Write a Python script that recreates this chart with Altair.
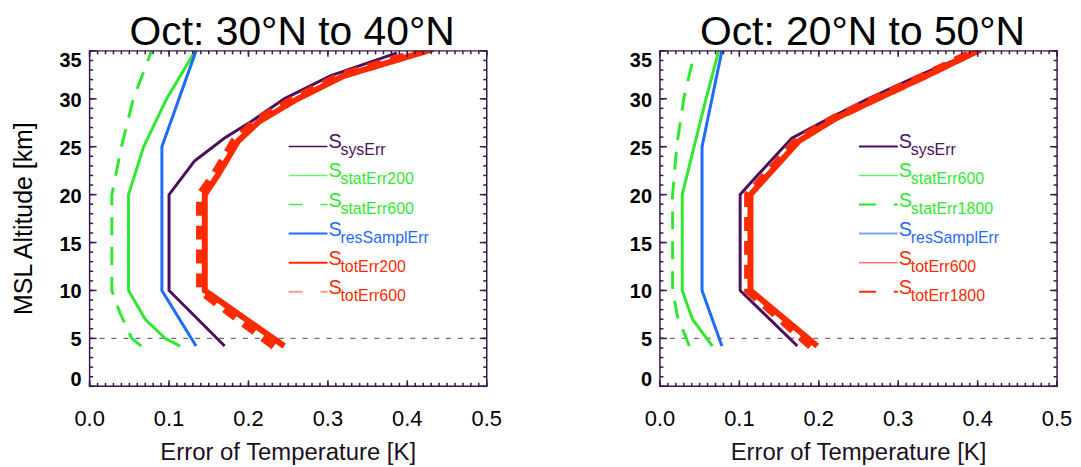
import altair as alt
import pandas as pd

# ---------------- values ----------------
X_TICKS = [0.0, 0.1, 0.2, 0.3, 0.4, 0.5]
Y_TICKS = [0, 5, 10, 15, 20, 25, 30, 35]
X_MINOR = [i / 100 for i in range(0, 51)]
Y_MINOR = list(range(0, 36))
X_RANGE = [0.0, 0.5]
Y_RANGE = [0, 35]
THRESHOLD_ALT = [5]

TITLES = ["Oct: 30\u00b0N to 40\u00b0N", "Oct: 20\u00b0N to 50\u00b0N"]
X_TITLE = "Error of Temperature [K]"
Y_TITLE = "MSL Altitude [km]"

# ---- left panel (30N-40N) ----
L_SYS_ALT = [4.2, 10, 20, 23.5, 25.9, 27.6, 30.0, 32.4, 34.8]
L_SYS_ERR = [0.170, 0.100, 0.100, 0.132, 0.170, 0.203, 0.245, 0.303, 0.387]
L_STAT200_ALT = [4.2, 5.0, 7.0, 10, 20, 25, 30, 35]
L_STAT200_ERR = [0.114, 0.095, 0.070, 0.049, 0.049, 0.068, 0.097, 0.133]
L_STAT600_ALT = [4.2, 5.0, 7.7, 10, 20, 25, 30, 35]
L_STAT600_ERR = [0.065, 0.053, 0.038, 0.028, 0.028, 0.040, 0.055, 0.078]
L_RES_ALT = [4.2, 10, 25, 35]
L_RES_ERR = [0.134, 0.091, 0.091, 0.134]
L_TOT200_ALT = [4.2, 10, 20, 22.1, 25.6, 27.6, 30, 32.4, 35.2]
L_TOT200_ERR = [0.245, 0.145, 0.145, 0.162, 0.187, 0.213, 0.262, 0.320, 0.433]
L_TOT600_ALT = [4.2, 10, 20, 22.1, 25.6, 27.6, 30, 32.4, 35.2]
L_TOT600_ERR = [0.232, 0.139, 0.139, 0.157, 0.182, 0.208, 0.257, 0.315, 0.428]

# ---- right panel (20N-50N) ----
R_SYS_ALT = [4.2, 10, 20, 21.4, 25.9, 27.9, 30, 32.4, 35.2]
R_SYS_ERR = [0.173, 0.101, 0.101, 0.116, 0.166, 0.212, 0.262, 0.325, 0.404]
R_STAT600_ALT = [4.2, 7.0, 10, 20, 25, 30, 35]
R_STAT600_ERR = [0.066, 0.041, 0.028, 0.028, 0.043, 0.058, 0.074]
R_STAT1800_ALT = [4.2, 7.3, 10, 20, 25, 30, 35]
R_STAT1800_ERR = [0.037, 0.022, 0.016, 0.016, 0.021, 0.030, 0.044]
R_RES_ALT = [4.2, 10, 25, 35]
R_RES_ERR = [0.078, 0.053, 0.053, 0.078]
R_TOT600_ALT = [4.2, 10, 20, 21.4, 25.6, 27.9, 29.9, 32.3, 35.2]
R_TOT600_ERR = [0.198, 0.114, 0.114, 0.129, 0.175, 0.220, 0.271, 0.333, 0.405]
R_TOT1800_ALT = [4.2, 10, 20, 21.4, 25.6, 27.9, 29.9, 32.3, 35.2]
R_TOT1800_ERR = [0.190, 0.111, 0.111, 0.126, 0.172, 0.217, 0.268, 0.330, 0.402]

L_LEGEND_NAMES = ["sysErr", "statErr200", "statErr600", "resSamplErr", "totErr200", "totErr600"]
R_LEGEND_NAMES = ["sysErr", "statErr600", "statErr1800", "resSamplErr", "totErr600", "totErr1800"]

# ---------------- style ----------------
FONT = "Liberation Sans, Arial, Helvetica, sans-serif"
AX = "#3a1650"
PURPLE = "#4b0f5e"
GREEN = "#2fe82f"
BLUE = "#1f6bff"
RED = "#ff2a00"
PW, PH = 399, 337
MAJ_X, MAJ_Y, MINOR = 6, 7, 3.5

xs = alt.Scale(domain=X_RANGE, nice=False, zero=False)
ys = alt.Scale(domain=Y_RANGE, nice=False, zero=False)

dummy = alt.Data(values=[{}])


def tick_rules(values, orient, size):
    df = pd.DataFrame({"v": values})
    base = alt.Chart(df).mark_rule(color=AX, strokeWidth=1.5)
    if orient == "bottom":
        return base.encode(x=alt.X("v:Q", scale=xs, axis=None),
                           y=alt.value(PH), y2=alt.value(PH - size))
    if orient == "top":
        return base.encode(x=alt.X("v:Q", scale=xs, axis=None),
                           y=alt.value(0), y2=alt.value(size))
    if orient == "left":
        return base.encode(y=alt.Y("v:Q", scale=ys, axis=None),
                           x=alt.value(0), x2=alt.value(size))
    return base.encode(y=alt.Y("v:Q", scale=ys, axis=None),
                       x=alt.value(PW), x2=alt.value(PW - size))


def x_labels():
    return alt.Chart(pd.DataFrame({"v": X_TICKS})).mark_text(
        font=FONT, fontSize=22, color="black", align="center", baseline="top").encode(
        x=alt.X("v:Q", scale=xs, axis=None), y=alt.value(PH + 23),
        text=alt.Text("v:Q", format=".1f"))


def y_labels():
    out = []
    for vals, base, dy in ((Y_TICKS[1:-1], "middle", 2), (Y_TICKS[-1:], "top", 0),
                           (Y_TICKS[:1], "alphabetic", 0)):
        out.append(alt.Chart(pd.DataFrame({"v": vals})).mark_text(
            font=FONT, fontSize=20, fontWeight="bold", color="black", align="right",
            baseline=base, dy=dy).encode(
            y=alt.Y("v:Q", scale=ys, axis=None), x=alt.value(-8),
            text=alt.Text("v:Q", format="d")))
    return out


def series_layer(alts, errs, color, width, dash=None):
    df = pd.DataFrame({"alt": alts, "err": errs})
    kw = dict(color=color, strokeWidth=width, clip=True)
    if dash:
        kw["strokeDash"] = dash
    return alt.Chart(df).mark_line(**kw).encode(
        x=alt.X("err:Q", scale=xs, axis=None),
        y=alt.Y("alt:Q", scale=ys, axis=None),
        order=alt.Order("alt:Q"),
    )


LEG_X0, LEG_X1, LEG_SX, LEG_SUBX = 200, 239, 240, 252
LEG_Y0, LEG_DY = 96, 29.2


def legend_layers(names, line_styles, text_colors):
    out = []
    for i, (name, (lc, lw, ld), tc) in enumerate(zip(names, line_styles, text_colors)):
        y = LEG_Y0 + i * LEG_DY
        kw = dict(color=lc, strokeWidth=lw)
        if ld:
            kw["strokeDash"] = ld
        out.append(alt.Chart(dummy).mark_rule(**kw).encode(
            x=alt.value(LEG_X0), x2=alt.value(LEG_X1), y=alt.value(y)))
        out.append(alt.Chart(dummy).mark_text(
            text="S", font=FONT, fontSize=20, align="left", baseline="alphabetic",
            color=tc).encode(x=alt.value(LEG_SX), y=alt.value(y + 2)))
        out.append(alt.Chart(dummy).mark_text(
            text=name, font=FONT, fontSize=16, align="left", baseline="alphabetic",
            color=tc).encode(x=alt.value(LEG_SUBX), y=alt.value(y + 9)))
    return out


def panel(series, legend_names, legend_lines, legend_text, title, ytitle):
    layers = [
        alt.Chart(pd.DataFrame({"alt": THRESHOLD_ALT})).mark_rule(
            color="#7a6888", strokeWidth=1.2, strokeDash=[5, 7]).encode(
            y=alt.Y("alt:Q", scale=ys, axis=None)),
    ]
    for s in series:
        layers.append(series_layer(*s))
    # frame and inward ticks on all four sides
    layers += [
        alt.Chart(dummy).mark_rect(fillOpacity=0, stroke=AX, strokeWidth=1.5).encode(
            x=alt.value(0), x2=alt.value(PW), y=alt.value(0), y2=alt.value(PH)),
        tick_rules(X_MINOR, "bottom", MINOR), tick_rules(X_MINOR, "top", MINOR),
        tick_rules(X_TICKS, "bottom", MAJ_X), tick_rules(X_TICKS, "top", MAJ_X),
        tick_rules(Y_MINOR, "left", MINOR), tick_rules(Y_MINOR, "right", MINOR),
        tick_rules(Y_TICKS, "left", MAJ_Y), tick_rules(Y_TICKS, "right", MAJ_Y),
    ]
    # tick labels and axis titles
    layers.append(x_labels())
    layers += y_labels()
    layers.append(alt.Chart(dummy).mark_text(
        text=X_TITLE, font=FONT, fontSize=24, color="#1c1024", align="center",
        baseline="top").encode(x=alt.value(PW / 2), y=alt.value(PH + 55)))
    if ytitle:
        layers.append(alt.Chart(dummy).mark_text(
            text=ytitle, font=FONT, fontSize=25, color="black", align="center",
            baseline="middle", angle=270).encode(x=alt.value(-66), y=alt.value(PH / 2)))
    layers += legend_layers(legend_names, legend_lines, legend_text)
    return alt.layer(*layers).properties(
        width=PW, height=PH,
        title=alt.Title(title, fontSize=41, font=FONT, fontWeight="normal", color="black",
                        offset=-4, dx=4, anchor="middle", frame="group"))


left = panel(
    [
        (L_STAT600_ALT, L_STAT600_ERR, GREEN, 3, [18, 12]),
        (L_STAT200_ALT, L_STAT200_ERR, GREEN, 3),
        (L_RES_ALT, L_RES_ERR, BLUE, 3),
        (L_SYS_ALT, L_SYS_ERR, PURPLE, 3),
        (L_TOT200_ALT, L_TOT200_ERR, RED, 6),
        (L_TOT600_ALT, L_TOT600_ERR, RED, 8, [14, 10]),
    ],
    L_LEGEND_NAMES,
    [(PURPLE, 1.5, None), ("#6cf06c", 1.5, None), ("#3cea3c", 1.5, [14, 18]),
     (BLUE, 2, None), (RED, 2, None), ("#ff9a8a", 2, [14, 18])],
    [PURPLE, GREEN, GREEN, BLUE, RED, RED],
    TITLES[0], Y_TITLE,
)

right = panel(
    [
        (R_STAT1800_ALT, R_STAT1800_ERR, GREEN, 3, [18, 12]),
        (R_STAT600_ALT, R_STAT600_ERR, GREEN, 3),
        (R_RES_ALT, R_RES_ERR, BLUE, 3),
        (R_SYS_ALT, R_SYS_ERR, PURPLE, 3),
        (R_TOT600_ALT, R_TOT600_ERR, RED, 6),
        (R_TOT1800_ALT, R_TOT1800_ERR, RED, 8, [14, 10]),
    ],
    R_LEGEND_NAMES,
    [(PURPLE, 2, None), ("#6cf06c", 1.5, None), ("#22e622", 2, [17, 18]),
     ("#7aa6ff", 2, None), ("#ff7a6a", 1.5, None), (RED, 2, [17, 18])],
    [PURPLE, GREEN, GREEN, BLUE, RED, RED],
    TITLES[1], None,
)

chart = alt.hconcat(left, right, spacing=174, bounds="flush",
                    padding={"left": 4, "top": 3, "right": 0, "bottom": 0}).configure_view(
    strokeWidth=0)

chart.save("out.html", embed_options={"renderer": "svg", "actions": False})
